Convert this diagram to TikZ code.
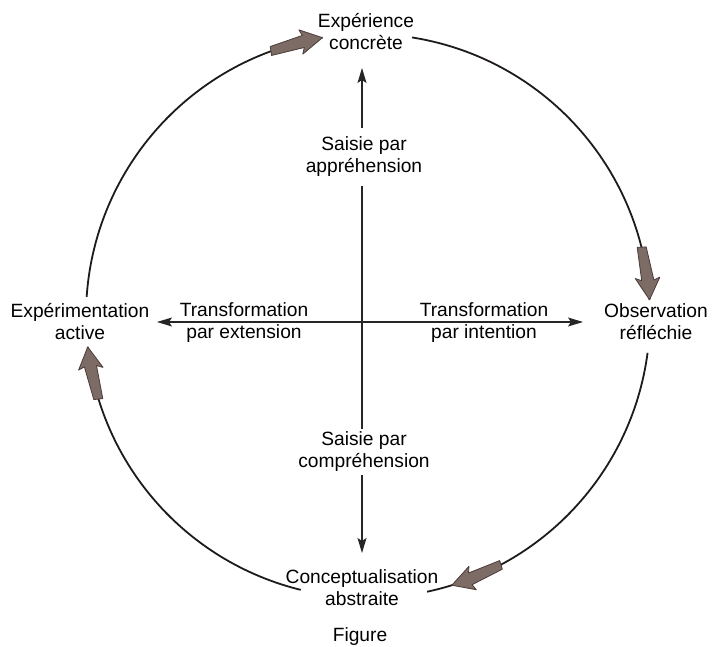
\documentclass[tikz,border=0pt]{standalone}
\usepackage{fontspec}
\setmainfont{Liberation Sans}
\usetikzlibrary{arrows.meta}

\definecolor{inkline}{HTML}{1E1B1A}
\definecolor{arrowfill}{HTML}{7D6B66}
\definecolor{arrowedge}{HTML}{4A3C38}

% block arrow sitting on the cycle circle, tip at angle #1, pointing clockwise
\newcommand\cyclearrow[1]{%
  \begin{scope}[shift={(C)},rotate=#1]
    \filldraw[arrowbody] (282,0) -- (269.0,22) -- (275.3,19.5) -- (272.7,53)
      -- (281.7,53) -- (287.5,19.5) -- (293.6,22) -- cycle;
  \end{scope}}

\begin{document}
\begin{tikzpicture}[x=1pt,y=1pt,
  lbl/.style={align=center,text=black,inner sep=0pt,
    font=\fontsize{19.2}{22}\selectfont},
  cyc/.style={draw=inkline,line width=1.8pt},
  axis/.style={draw=black!85,line width=1.1pt},
  axtip/.style={-{Stealth[length=15pt,width=9pt,inset=3pt]}},
  arrowbody/.style={fill=arrowfill,draw=arrowedge,line width=0.8pt,line join=round}]
\useasboundingbox (0,0) rectangle (713,646);
\fill[white] (0,0) rectangle (713,646);

% centre of the learning cycle and of the two axes
\coordinate (C) at (368,330);
\coordinate (O) at (362,324);
\coordinate (vTop) at (362,578);
\coordinate (vBot) at (362,93);
\coordinate (hL) at (157,324);
\coordinate (hR) at (583,324);

% the four stages
\node[lbl] (concrete) at (366,614) {Expérience\\concrète};
\node[lbl] (observation) at (656,324) {Observation\\réfléchie};
\node[lbl] (abstraite) at (362,58) {Conceptualisation\\abstraite};
\node[lbl] (active) at (80,324) {Expérimentation\\active};

% the axis labels
\node[lbl,inner ysep=9pt] (apprehension) at (364,489) {Saisie par\\appréhension};
\node[lbl,inner ysep=3pt] (comprehension) at (364,194) {Saisie par\\compréhension};
\node[lbl] (extension) at (244,323) {Transformation\\par extension};
\node[lbl] (intention) at (484,323) {Transformation\\par intention};
\node[lbl] (caption) at (360,9) {Figure};

% vertical axis, broken around its labels
\draw[axis,axtip] (apprehension.north -| O) -- (vTop);
\draw[axis] (apprehension.south -| O) -- (comprehension.north -| O);
\draw[axis,axtip] (comprehension.south -| O) -- (vBot);

% horizontal axis
\draw[axis,axtip] (O) -- (hL);
\draw[axis,axtip] (O) -- (hR);

% circle arcs between the stages
\draw[cyc] ([shift={(81:282)}]C) arc[start angle=81,end angle=3.3,radius=282];
\draw[cyc] ([shift={(-7.5:282)}]C) arc[start angle=-7.5,end angle=-77.9,radius=282];
\draw[cyc] ([shift={(-103.8:282)}]C) arc[start angle=-103.8,end angle=-173.7,radius=282];
\draw[cyc] ([shift={(176.1:282)}]C) arc[start angle=176.1,end angle=99.3,radius=282];

% direction arrows of the cycle
\cyclearrow{3.3}
\cyclearrow{-72.7}
\cyclearrow{186.3}
\cyclearrow{99.3}
\end{tikzpicture}
\end{document}
